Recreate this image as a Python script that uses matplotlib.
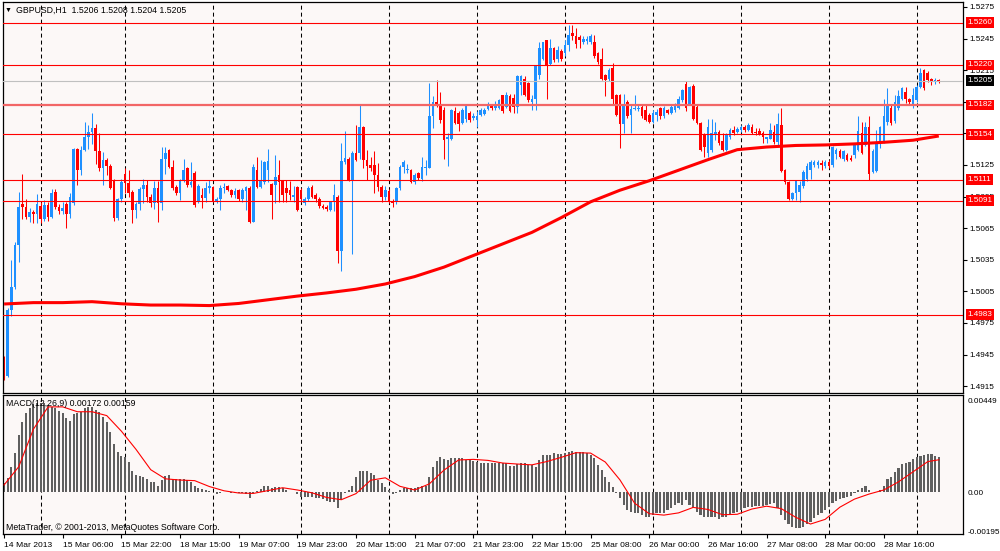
import matplotlib
matplotlib.use("Agg")
import matplotlib.pyplot as plt
import matplotlib.transforms as mtransforms
import numpy as np

plt.rcParams['font.family'] = ['Liberation Sans', 'DejaVu Sans']

# GBPUSD H1, prices stored as pips above BASE
BASE = 1.4900

opens = [
    42, 25, 87, 109, 149, 188, 185, 176, 180, 178,
    186, 174, 187, 176, 199, 185, 181, 188, 178, 189,
    240, 220, 239, 252, 256, 260, 238, 222, 230, 224,
    210, 175, 193, 216, 208, 199, 182, 188, 202, 206,
    195, 189, 203, 189, 231, 239, 223, 204, 198, 211,
    222, 206, 217, 190, 196, 194, 203, 204, 190, 193,
    203, 205, 201, 196, 201, 193, 200, 203, 171, 220,
    204, 209, 220, 207, 206, 215, 210, 203, 201, 195,
    204, 201, 189, 193, 204, 196, 193, 186, 185, 182,
    190, 195, 143, 228, 231, 211, 236, 236, 261, 230,
    225, 225, 215, 204, 195, 200, 191, 190, 203, 223,
    220, 220, 209, 217, 212, 222, 222, 271, 285, 283,
    277, 250, 250, 276, 274, 265, 269, 274, 270, 268,
    272, 273, 278, 281, 279, 279, 291, 280, 290, 289,
    280, 301, 307, 303, 285, 288, 310, 326, 344, 321,
    336, 326, 333, 331, 339, 350, 347, 346, 342, 343,
    342, 342, 331, 326, 310, 307, 317, 291, 291, 264,
    285, 272, 278, 278, 280, 277, 272, 266, 272, 279,
    271, 277, 274, 277, 279, 287, 302, 283, 300, 280,
    265, 253, 236, 239, 253, 256, 248, 239, 252, 258,
    256, 258, 261, 258, 261, 256, 257, 255, 250, 250,
    256, 247, 263, 220, 209, 193, 198, 199, 205, 212,
    220, 225, 225, 227, 224, 228, 225, 235, 238, 231,
    234, 232, 234, 239, 255, 244, 261, 218, 219, 247,
    247, 266, 279, 267, 279, 288, 294, 288, 282, 287,
    299, 315, 312, 307, 305, 306,
]
highs = [
    44, 89, 135, 152, 199, 216, 193, 184, 182, 197,
    190, 192, 190, 202, 202, 188, 190, 190, 198, 241,
    241, 243, 266, 263, 274, 264, 255, 237, 232, 226,
    212, 194, 212, 222, 220, 201, 190, 204, 212, 211,
    197, 210, 210, 242, 242, 240, 230, 206, 212, 231,
    223, 228, 219, 207, 203, 209, 211, 205, 195, 206,
    208, 206, 202, 203, 202, 203, 205, 205, 226, 233,
    230, 229, 240, 208, 234, 230, 211, 211, 210, 205,
    205, 203, 195, 205, 206, 198, 195, 188, 187, 191,
    207, 196, 246, 257, 233, 238, 263, 283, 262, 239,
    233, 238, 227, 206, 205, 202, 193, 204, 225, 230,
    226, 221, 217, 218, 233, 230, 303, 290, 306, 294,
    280, 255, 278, 280, 276, 279, 283, 276, 274, 276,
    279, 279, 285, 283, 286, 288, 291, 294, 292, 292,
    310, 310, 309, 304, 291, 320, 342, 342, 344, 345,
    337, 338, 335, 344, 358, 358, 355, 348, 347, 347,
    349, 348, 332, 336, 311, 317, 322, 292, 292, 292,
    287, 282, 291, 283, 283, 283, 274, 277, 278, 280,
    281, 278, 282, 284, 290, 297, 305, 300, 302, 282,
    266, 255, 269, 269, 266, 258, 255, 255, 260, 262,
    261, 263, 263, 265, 264, 260, 260, 257, 252, 265,
    263, 274, 279, 221, 210, 199, 211, 210, 220, 227,
    230, 230, 230, 230, 230, 230, 243, 241, 240, 239,
    236, 234, 246, 271, 266, 266, 271, 240, 258, 262,
    288, 298, 283, 291, 296, 299, 299, 289, 298, 301,
    317, 316, 314, 308, 308, 307,
]
lows = [
    21, 24, 82, 107, 133, 174, 174, 171, 170, 170,
    170, 172, 172, 175, 183, 178, 178, 165, 175, 187,
    206, 215, 238, 240, 245, 226, 219, 206, 215, 202,
    172, 173, 190, 198, 195, 170, 175, 182, 189, 190,
    185, 183, 171, 182, 216, 222, 201, 196, 192, 209,
    204, 204, 185, 189, 184, 190, 198, 190, 189, 182,
    198, 200, 195, 194, 191, 190, 182, 170, 171, 203,
    203, 207, 209, 174, 189, 190, 190, 190, 192, 190,
    181, 190, 187, 191, 194, 190, 184, 183, 181, 181,
    181, 132, 124, 226, 210, 140, 229, 231, 222, 211,
    219, 198, 200, 190, 192, 189, 185, 188, 201, 217,
    217, 208, 207, 211, 210, 215, 222, 260, 280, 265,
    231, 224, 249, 264, 257, 264, 266, 266, 268, 261,
    271, 272, 277, 277, 277, 278, 274, 279, 275, 274,
    274, 291, 290, 285, 277, 277, 307, 325, 288, 320,
    323, 323, 324, 328, 333, 344, 336, 336, 340, 340,
    340, 327, 321, 306, 290, 305, 283, 271, 241, 255,
    270, 255, 277, 276, 270, 267, 265, 265, 267, 269,
    270, 273, 273, 275, 278, 285, 276, 282, 268, 264,
    238, 233, 233, 237, 249, 244, 238, 238, 250, 253,
    255, 256, 256, 257, 254, 253, 253, 246, 246, 250,
    245, 244, 218, 207, 192, 192, 192, 190, 203, 210,
    212, 223, 222, 220, 222, 222, 223, 231, 232, 229,
    229, 229, 232, 238, 235, 243, 211, 217, 218, 241,
    246, 263, 263, 265, 277, 287, 284, 282, 279, 285,
    298, 296, 304, 301, 302, 303,
]
closes = [
    23, 87, 109, 149, 185, 185, 176, 180, 178, 188,
    174, 187, 176, 198, 185, 181, 184, 178, 195, 240,
    220, 239, 252, 256, 260, 238, 222, 230, 224, 203,
    175, 193, 209, 208, 198, 182, 188, 202, 206, 195,
    189, 203, 189, 231, 236, 223, 203, 198, 211, 220,
    206, 209, 187, 205, 194, 203, 205, 190, 193, 203,
    204, 201, 196, 200, 193, 201, 204, 171, 223, 204,
    211, 228, 229, 196, 214, 209, 196, 198, 196, 196,
    182, 193, 193, 203, 195, 193, 186, 184, 183, 190,
    196, 143, 229, 232, 211, 236, 230, 261, 230, 224,
    222, 215, 204, 195, 201, 190, 189, 203, 223, 228,
    221, 209, 215, 213, 223, 223, 271, 285, 282, 268,
    249, 252, 277, 265, 264, 277, 282, 268, 271, 271,
    277, 277, 283, 279, 283, 287, 276, 291, 276, 280,
    309, 309, 291, 287, 288, 320, 336, 342, 320, 336,
    325, 334, 326, 339, 348, 347, 340, 344, 345, 345,
    347, 328, 323, 307, 306, 315, 288, 272, 264, 283,
    271, 278, 279, 279, 271, 268, 266, 274, 275, 271,
    279, 274, 280, 282, 288, 296, 279, 299, 269, 265,
    239, 242, 261, 255, 256, 246, 239, 253, 258, 255,
    259, 261, 258, 263, 255, 255, 254, 252, 252, 258,
    247, 264, 219, 209, 193, 198, 210, 206, 218, 224,
    228, 228, 228, 225, 228, 224, 242, 239, 233, 238,
    230, 230, 245, 257, 236, 261, 216, 238, 246, 261,
    271, 282, 265, 285, 290, 298, 288, 285, 291, 299,
    312, 298, 306, 304, 306, 305,
]

# moving average (thick red line), pips above BASE
ma_bars = [0, 8, 16, 24, 32, 40, 48, 56, 64, 72, 80, 88, 96, 104, 112, 120,
           128, 136, 144, 152, 160, 168, 176, 184, 192, 200, 208, 216, 224,
           232, 240, 248, 255]
ma_vals = [93, 94.3, 94.3, 95.2, 93.2, 92, 92, 91.5, 93.5, 97, 100.5, 103.5,
           107, 112, 119, 128, 139, 150, 161, 175, 190, 201, 210, 220, 230,
           239.5, 242, 243.5, 244, 245, 246.5, 248.5, 252.5]

# MACD(12,26,9) main values, units of 0.00001
macd_main = [
    45, 67, 122, 194, 281, 344, 388, 413, 432, 441,
    441, 437, 429, 421, 416, 401, 391, 367, 352, 383,
    388, 396, 413, 421, 421, 405, 396, 372, 347, 298,
    237, 199, 178, 171, 150, 105, 84, 79, 76, 62,
    51, 51, 29, 59, 79, 84, 62, 62, 62, 62,
    59, 51, 29, 18, 13, 10, 7, 0, -10, -7,
    0, 0, -3, -7, -7, -7, -10, -31, -7, 5,
    13, 29, 29, 18, 26, 26, 18, 10, 0, 0,
    -10, -23, -23, -23, -26, -31, -31, -36, -43, -48,
    -48, -81, -39, -7, 10, 29, 76, 105, 105, 105,
    95, 84, 59, 43, 26, 10, -10, -3, 10, 18,
    18, 18, 18, 23, 29, 29, 76, 122, 155, 174,
    161, 158, 168, 168, 168, 168, 158, 158, 153, 150,
    145, 145, 145, 145, 145, 145, 145, 145, 128, 128,
    138, 141, 145, 133, 133, 125, 158, 182, 182, 182,
    191, 187, 187, 191, 196, 202, 199, 196, 196, 191,
    182, 166, 133, 108, 76, 51, 23, -7, -31, -64,
    -89, -97, -102, -105, -114, -122, -125, -114, -105, -105,
    -102, -89, -81, -64, -53, -64, -39, -64, -81, -97,
    -114, -122, -122, -122, -125, -135, -122, -122, -114, -105,
    -97, -89, -81, -76, -72, -69, -69, -69, -66, -59,
    -53, -81, -114, -138, -158, -171, -179, -179, -171, -158,
    -146, -130, -114, -105, -89, -72, -56, -43, -36, -31,
    -26, -20, -7, 10, 18, 29, 10, 2, 0, 10,
    29, 62, 76, 100, 117, 138, 145, 150, 161, 171,
    178, 185, 188, 186, 180, 172,
]
sig_bars = list(range(0, 253, 4)) + [255]
sig_vals = [35, 125, 310, 420, 420, 396, 396, 377, 300, 210,
            110, 65, 59, 56, 27, 6, -5, -7, 7, 21,
            10, -4, -27, -38, -8, 58, 70, 28, 10, 40,
            108, 158, 161, 156, 143, 138, 134, 150, 171, 194,
            192, 148, 60, -55, -107, -114, -103, -76, -86, -112,
            -110, -84, -70, -82, -125, -158, -135, -75, -35, -10,
            10, 50, 100, 150, 159]

levels = [1.5260, 1.5220, 1.5182, 1.5154, 1.5111, 1.5091, 1.4983]
bid = 1.5205

time_labels = ['14 Mar 2013', '15 Mar 06:00', '15 Mar 22:00', '18 Mar 15:00',
               '19 Mar 07:00', '19 Mar 23:00', '20 Mar 15:00', '21 Mar 07:00',
               '21 Mar 23:00', '22 Mar 15:00', '25 Mar 08:00', '26 Mar 00:00',
               '26 Mar 16:00', '27 Mar 08:00', '28 Mar 00:00', '28 Mar 16:00']
label_bars = [0, 16, 32, 48, 64, 80, 96, 112, 128, 144, 160, 176, 192, 208, 224, 240]
grid_bars = [10, 33, 57, 81, 105, 129, 153, 177, 201, 225, 249]

BULL = '#1e90ff'
BEAR = '#ff0000'
PANEL = '#fcf8f7'
FS = 5.9

W, H = 1000, 551
fig = plt.figure(figsize=(W / 100, H / 100), dpi=100, facecolor='white')


def px_rect(x0, y0, x1, y1):
    return [x0 / W, 1 - y1 / H, (x1 - x0) / W, (y1 - y0) / H]


ax = fig.add_axes(px_rect(3, 2, 963, 393))
axm = fig.add_axes(px_rect(3, 395, 963, 534))

o = BASE + np.array(opens) / 1e4
h = BASE + np.array(highs) / 1e4
l = BASE + np.array(lows) / 1e4
c = BASE + np.array(closes) / 1e4
x = np.arange(len(c))
col = np.where(c >= o, BULL, BEAR)

for a in (ax, axm):
    a.set_facecolor(PANEL)
    for s in a.spines.values():
        s.set_color('black')
        s.set_linewidth(0.9)
    for gb in grid_bars:
        a.axvline(gb, color='black', lw=0.75, ls=(0, (3.8, 2.9)), zorder=1)
    a.set_xlim(-0.3, 261.6)

# candles
ax.vlines(x, l, h, colors=col, lw=0.75, zorder=2)
ax.bar(x, np.maximum(np.abs(c - o), 0.00006), bottom=np.minimum(o, c),
       width=0.72, color=col, lw=0, zorder=2)

# levels
for lv in levels:
    lw, lc = (1.6, '#f26666') if lv == 1.5182 else (0.8, '#ff0000')
    ax.axhline(lv, color=lc, lw=lw, zorder=4)
ax.axhline(bid, color='#c0c0c0', lw=0.8, zorder=3)

ax.plot(ma_bars, BASE + np.array(ma_vals) / 1e4, color='#ff0000', lw=2.2,
        solid_capstyle='butt', zorder=5)

ax.set_ylim(1.49085, 1.52797)
price_ticks = [1.4915 + 0.003 * k for k in range(13)]
hidden = ('1.5155', '1.5185')
ax.yaxis.tick_right()
ax.set_yticks(price_ticks)
ax.set_yticklabels(['' if '%.4f' % p in hidden else '%.4f' % p for p in price_ticks])
ax.tick_params(axis='y', direction='out', length=3, width=0.8, labelsize=FS, pad=1.5)
ax.tick_params(axis='x', bottom=False, labelbottom=False)

trans = mtransforms.blended_transform_factory(ax.transAxes, ax.transData)
for lv in levels:
    ax.text(1.0045, lv, '%.4f' % lv, transform=trans, ha='left', va='center',
            fontsize=FS, color='white', clip_on=False, zorder=10,
            bbox=dict(boxstyle='square,pad=0.22', fc='#ff0000', ec='none'))
ax.text(1.0045, bid, '%.4f' % bid, transform=trans, ha='left', va='center',
        fontsize=FS, color='white', clip_on=False, zorder=10,
        bbox=dict(boxstyle='square,pad=0.22', fc='black', ec='none'))

# MACD panel
axm.bar(x, np.array(macd_main) / 1e5, width=0.58, color='#5f5f5f', lw=0, zorder=2)
axm.plot(sig_bars, np.array(sig_vals) / 1e5, color='#ff0000', lw=0.8, zorder=3)
axm.set_ylim(-0.002072, 0.004786)
axm.yaxis.tick_right()
axm.set_yticks([0.00449, 0.0, -0.00195])
axm.set_yticklabels(['0.00449', '0.00', '-0.00195'])
axm.tick_params(axis='y', direction='out', length=0, labelsize=FS, pad=3)
axm.set_xticks(label_bars)
axm.set_xticklabels(time_labels, ha='left')
axm.tick_params(axis='x', direction='out', length=3, width=0.8, labelsize=6.1, pad=2.5)

fig.text(5 / W, 1 - 10 / H, '\u25bc', fontsize=5, va='center', ha='left')
fig.text(16 / W, 1 - 10 / H, 'GBPUSD,H1  1.5206 1.5208 1.5204 1.5205',
         fontsize=6.3, va='center', ha='left')
fig.text(6 / W, 1 - 403 / H, 'MACD(12,26,9) 0.00172 0.00159',
         fontsize=6.3, va='center', ha='left')
fig.text(6 / W, 1 - 527 / H, 'MetaTrader, \u00a9 2001-2013, MetaQuotes Software Corp.',
         fontsize=6.3, va='center', ha='left')

fig.savefig('out.png', dpi=100, facecolor='white')
